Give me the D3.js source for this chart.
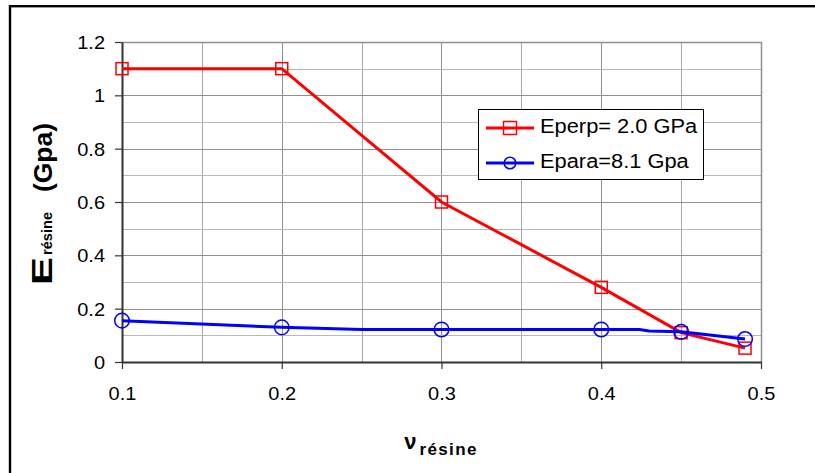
<!DOCTYPE html>
<html><head><meta charset="utf-8">
<script src="https://cdn.jsdelivr.net/npm/d3@7"></script>
<style>body{margin:0;background:#fff}svg{display:block;font-family:"Liberation Sans",Arial,sans-serif}</style>
</head><body><svg id="c" width="815" height="473"></svg>
<script>
// Data
const perpX = [0.1, 0.2, 0.3, 0.4, 0.45, 0.49];
const perpY = [1.1, 1.1, 0.6, 0.28, 0.11, 0.052];
const paraLineX = [0.1, 0.2, 0.25, 0.3, 0.4, 0.424, 0.43, 0.45, 0.49];
const paraLineY = [0.155, 0.13, 0.122, 0.122, 0.122, 0.122, 0.116, 0.113, 0.086];
const paraMarkX = [0.1, 0.2, 0.3, 0.4, 0.45, 0.49];
const paraMarkY = [0.155, 0.13, 0.122, 0.122, 0.113, 0.086];
const xTicks = [0.1, 0.2, 0.3, 0.4, 0.5];
const yTicks = [0, 0.2, 0.4, 0.6, 0.8, 1, 1.2];
const xMinor = [0.15, 0.25, 0.35, 0.45];
const yMinor = [0.1, 0.3, 0.5, 0.7, 0.9, 1.1];
const legendLabels = ["Eperp= 2.0 GPa", "Epara=8.1 Gpa"];

const FONT = '"Liberation Sans",Arial,sans-serif';
const svg = d3.select("#c");
const L = 122, R = 761, T = 42, B = 362;
const x = d3.scaleLinear().domain([0.1, 0.5]).range([L, R]);
const y = d3.scaleLinear().domain([0, 1.2]).range([B, T]);

function stretch(sel, f) {
  sel.each(function () {
    const w = this.getComputedTextLength();
    d3.select(this).attr("textLength", w * f).attr("lengthAdjust", "spacingAndGlyphs");
  });
}

// outer frame (top and left visible)
svg.append("rect").attr("x", 10).attr("y", 6.2).attr("width", 900).attr("height", 600)
  .attr("fill", "none").attr("stroke", "#000").attr("stroke-width", 2.4);

// gridlines
const g = svg.append("g");
g.selectAll(".vm").data(xMinor).join("line")
  .attr("x1", d => Math.round(x(d)) + 0.5).attr("x2", d => Math.round(x(d)) + 0.5)
  .attr("y1", T).attr("y2", B).attr("stroke", "#a8a8a8");
g.selectAll(".vM").data(xTicks.slice(1, -1)).join("line")
  .attr("x1", d => Math.round(x(d)) + 0.5).attr("x2", d => Math.round(x(d)) + 0.5)
  .attr("y1", T).attr("y2", B).attr("stroke", "#909090");
g.selectAll(".hm").data(yMinor).join("line")
  .attr("y1", d => Math.round(y(d)) + 0.5).attr("y2", d => Math.round(y(d)) + 0.5)
  .attr("x1", L).attr("x2", R).attr("stroke", "#b8b8b8");
g.selectAll(".hM").data(yTicks.slice(1, -1)).join("line")
  .attr("y1", d => Math.round(y(d)) + 0.5).attr("y2", d => Math.round(y(d)) + 0.5)
  .attr("x1", L).attr("x2", R).attr("stroke", "#909090");

// plot border top/right
svg.append("path").attr("d", `M${L},${T + 0.5}H${R + 0.5}V${B}`)
  .attr("fill", "none").attr("stroke", "#909090").attr("stroke-width", 1.5);

// axes
const xa = svg.append("g").attr("transform", `translate(0,${B})`)
  .call(d3.axisBottom(x).tickValues(xTicks).tickFormat(d3.format("")).tickSize(7).tickSizeOuter(0));
const ya = svg.append("g").attr("transform", `translate(${L},0)`)
  .call(d3.axisLeft(y).tickValues(yTicks).tickFormat(d => String(+d.toFixed(1))).tickSize(7).tickSizeOuter(0));
[xa, ya].forEach(a => {
  a.attr("font-family", FONT).attr("font-size", 17.7);
  a.select(".domain").attr("stroke", "#333").attr("stroke-width", 2);
  a.selectAll(".tick line").attr("stroke", "#333").attr("stroke-width", 1.2);
  a.selectAll("text").attr("font-size", 17.7).attr("fill", "#000").attr("font-family", FONT);
});
xa.selectAll("text").attr("dy", "0").attr("y", 38);
ya.selectAll("text").attr("x", -17).attr("dy", "0.36em");
stretch(xa.selectAll("text"), 1.13);
stretch(ya.selectAll("text"), 1.13);

// series
const line = d3.line().x(d => x(d[0])).y(d => y(d[1]));
const perp = perpX.map((v, i) => [v, perpY[i]]);
const paraL = paraLineX.map((v, i) => [v, paraLineY[i]]);
const paraM = paraMarkX.map((v, i) => [v, paraMarkY[i]]);

svg.append("path").datum(perp).attr("d", line).attr("fill", "none")
  .attr("stroke", "#ff0000").attr("stroke-width", 3);
svg.selectAll(".sq").data(perp).join("rect")
  .attr("x", d => x(d[0]) - 6).attr("y", d => y(d[1]) - 6).attr("width", 12).attr("height", 12)
  .attr("fill", "none").attr("stroke", "#ff0000").attr("stroke-width", 1.5);

svg.append("path").datum(paraL).attr("d", line).attr("fill", "none")
  .attr("stroke", "#0000ff").attr("stroke-width", 3);
svg.selectAll(".ci").data(paraM).join("circle")
  .attr("cx", d => x(d[0])).attr("cy", d => y(d[1])).attr("r", 7.3)
  .attr("fill", "none").attr("stroke", "#0000ff").attr("stroke-width", 1.5);

// legend
const lg = svg.append("g");
lg.append("rect").attr("x", 478.5).attr("y", 109.5).attr("width", 225).attr("height", 70)
  .attr("fill", "#fff").attr("stroke", "#000").attr("stroke-width", 1);
const colors = ["#ff0000", "#0000ff"];
legendLabels.forEach((t, i) => {
  const cy = 128 + i * 35;
  lg.append("line").attr("x1", 486).attr("x2", 534).attr("y1", cy).attr("y2", cy)
    .attr("stroke", colors[i]).attr("stroke-width", 3);
  if (i === 0) {
    lg.append("rect").attr("x", 503.5).attr("y", cy - 6.5).attr("width", 13).attr("height", 13)
      .attr("fill", "none").attr("stroke", colors[i]).attr("stroke-width", 1.5);
  } else {
    lg.append("circle").attr("cx", 510).attr("cy", cy).attr("r", 5.8)
      .attr("fill", "none").attr("stroke", colors[i]).attr("stroke-width", 1.5);
  }
  const tx = lg.append("text").attr("x", 540).attr("y", cy + 4.5)
    .attr("font-size", 19.5).text(t);
  stretch(tx, 1.12);
});

// y axis title (reads bottom-to-top, starts near y=285)
const yt = svg.append("text").attr("transform", "translate(52,285) rotate(-90)")
  .attr("text-anchor", "start").attr("font-weight", "bold");
yt.append("tspan").attr("font-size", 30).attr("textLength", 28).attr("lengthAdjust", "spacingAndGlyphs").text("E");
yt.append("tspan").attr("font-size", 15).attr("dx", 2).attr("textLength", 43).attr("lengthAdjust", "spacingAndGlyphs").text("résine");
yt.append("tspan").attr("font-size", 25).attr("dx", 20).attr("textLength", 69).attr("lengthAdjust", "spacingAndGlyphs").text("(Gpa)");

// x axis title
const xt = svg.append("text").attr("x", 441).attr("y", 455)
  .attr("text-anchor", "middle").attr("font-weight", "bold");
xt.append("tspan").attr("font-size", 22).attr("dy", -6).text("ν");
xt.append("tspan").attr("font-size", 17).attr("dx", 3).attr("dy", 6).attr("letter-spacing", 1.4).text("résine");
</script></body></html>
